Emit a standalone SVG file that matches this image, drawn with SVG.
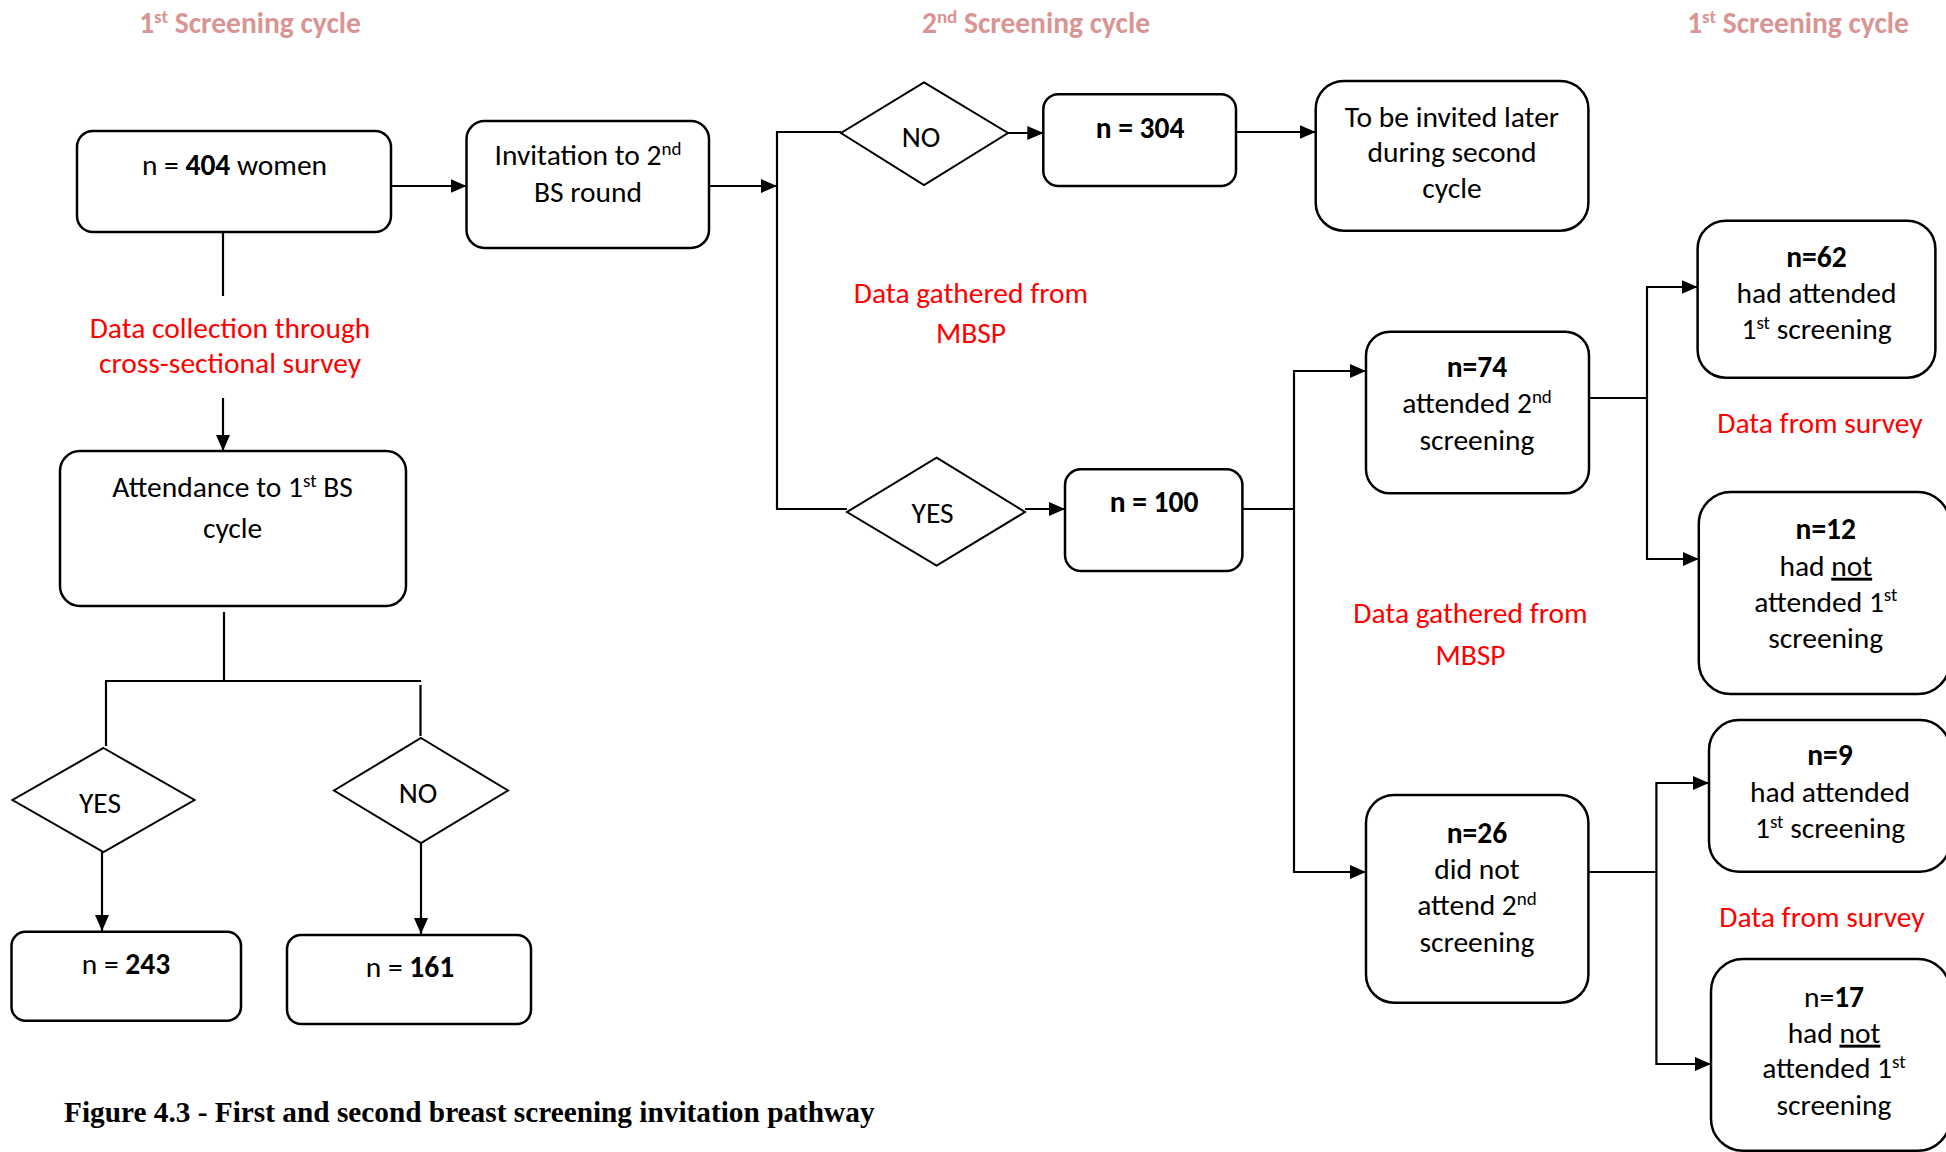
<svg xmlns="http://www.w3.org/2000/svg" width="1946" height="1152" viewBox="0 0 1946 1152">
  <style>
    text { font-family: Carlito, Calibri, Lato, "Liberation Sans", sans-serif; font-size: 29.5px; fill: #000; text-anchor: middle; }
    .box { fill: #fff; stroke: #000; stroke-width: 2.5; }
    .dia { fill: #fff; stroke: #000; stroke-width: 2; }
    .ln { fill: none; stroke: #000; stroke-width: 2.2; }
    .arr { fill: none; stroke: #000; stroke-width: 2.2; marker-end: url(#head); }
    .title { fill: #d99594; font-weight: bold; }
    .note { fill: #ff0000; }
    .b { font-weight: bold; }
    .u { text-decoration: underline; }
    .sup { font-size: 19px; }
    .cap { font-family: "Liberation Serif", "Times New Roman", serif; font-weight: bold; font-size: 29.3px; text-anchor: start; }
  </style>
  <defs>
    <marker id="head" markerUnits="userSpaceOnUse" markerWidth="16" markerHeight="14" refX="16" refY="7" orient="auto">
      <path d="M0,0 L16,7 L0,14 z" fill="#000"/>
    </marker>
  </defs>

  <!-- column headings -->
  <g id="headings">
    <text class="title" x="250" y="33">1<tspan class="sup" dy="-10.5">st</tspan><tspan dy="10.5"> Screening cycle</tspan></text>
    <text class="title" x="1036" y="33">2<tspan class="sup" dy="-10.5">nd</tspan><tspan dy="10.5"> Screening cycle</tspan></text>
    <text class="title" x="1798" y="33">1<tspan class="sup" dy="-10.5">st</tspan><tspan dy="10.5"> Screening cycle</tspan></text>
  </g>

  <!-- connectors -->
  <g id="connectors">
    <line class="arr" x1="391" y1="186" x2="466.5" y2="186"/>
    <line class="ln" x1="223" y1="232" x2="223" y2="296"/>
    <line class="arr" x1="223" y1="398" x2="223" y2="451"/>
    <line class="ln" x1="224" y1="612" x2="224" y2="681"/>
    <line class="ln" x1="105" y1="681" x2="421" y2="681"/>
    <line class="ln" x1="106" y1="681" x2="106" y2="746"/>
    <line class="ln" x1="420.5" y1="685" x2="420.5" y2="736"/>
    <line class="arr" x1="102" y1="852" x2="102" y2="931"/>
    <line class="arr" x1="421" y1="843" x2="421" y2="934"/>
    <line class="arr" x1="709" y1="186" x2="777" y2="186"/>
    <polyline class="ln" points="841,132 777,132 777,509 847,509"/>
    <line class="arr" x1="1008" y1="133" x2="1043.3" y2="133"/>
    <line class="arr" x1="1236" y1="132" x2="1315.7" y2="132"/>
    <line class="arr" x1="1025" y1="509" x2="1065" y2="509"/>
    <line class="ln" x1="1242.4" y1="509" x2="1294" y2="509"/>
    <polyline class="arr" points="1294,509 1294,371 1366,371"/>
    <polyline class="arr" points="1294,509 1294,872 1366,872"/>
    <line class="ln" x1="1589" y1="398" x2="1647" y2="398"/>
    <polyline class="arr" points="1647,398 1647,287 1697.6,287"/>
    <polyline class="arr" points="1647,398 1647,559 1698.8,559"/>
    <line class="ln" x1="1588.4" y1="872" x2="1656.4" y2="872"/>
    <polyline class="arr" points="1656.4,872 1656.4,783 1709,783"/>
    <polyline class="arr" points="1656.4,872 1656.4,1064 1711,1064"/>
  </g>

  <!-- nodes -->
  <g id="n404">
    <rect class="box" x="77" y="131" width="314" height="101" rx="16"/>
    <text x="234.5" y="175">n = <tspan class="b">404</tspan> women</text>
  </g>
  <g id="invite">
    <rect class="box" x="466.5" y="121" width="242.5" height="127" rx="18"/>
    <text x="588" y="165">Invitation to 2<tspan class="sup" dy="-10.5">nd</tspan></text>
    <text x="588" y="202">BS round</text>
  </g>
  <g id="attendance">
    <rect class="box" x="60" y="451" width="346" height="155" rx="20"/>
    <text x="232.6" y="497">Attendance to 1<tspan class="sup" dy="-10.5">st</tspan><tspan dy="10.5"> BS</tspan></text>
    <text x="232.6" y="538">cycle</text>
  </g>
  <g id="yes1">
    <polygon class="dia" points="103.5,748 194.5,800 103.5,852 12.5,800"/>
    <text x="100" y="812.7">YES</text>
  </g>
  <g id="no1">
    <polygon class="dia" points="421,738 508,790.5 421,843 334,790.5"/>
    <text x="418" y="802.7">NO</text>
  </g>
  <g id="n243">
    <rect class="box" x="11.5" y="931.7" width="229.5" height="89" rx="14"/>
    <text x="126" y="974">n = <tspan class="b">243</tspan></text>
  </g>
  <g id="n161">
    <rect class="box" x="287" y="935" width="244" height="89" rx="14"/>
    <text x="410" y="977">n = <tspan class="b">161</tspan></text>
  </g>
  <g id="no2">
    <polygon class="dia" points="924,82.3 1008,133 924,185 841,133"/>
    <text x="921" y="146.7">NO</text>
  </g>
  <g id="n304">
    <rect class="box" x="1043.3" y="94.3" width="192.7" height="91.7" rx="15"/>
    <text class="b" x="1140" y="137.7">n = 304</text>
  </g>
  <g id="later">
    <rect class="box" x="1315.7" y="81" width="272.7" height="149.7" rx="28"/>
    <text x="1452" y="126.7">To be invited later</text>
    <text x="1452" y="162.3">during second</text>
    <text x="1452" y="198.3">cycle</text>
  </g>
  <g id="yes2">
    <polygon class="dia" points="936.6,457.7 1025,512 936.6,565.7 847,512"/>
    <text x="932.6" y="523.3">YES</text>
  </g>
  <g id="n100">
    <rect class="box" x="1065" y="469.3" width="177.4" height="101.7" rx="16"/>
    <text class="b" x="1154" y="511.7">n = 100</text>
  </g>
  <g id="n74">
    <rect class="box" x="1366" y="331.7" width="223" height="161.6" rx="24"/>
    <text class="b" x="1477" y="377.3">n=74</text>
    <text x="1477" y="413.3">attended 2<tspan class="sup" dy="-10.5">nd</tspan></text>
    <text x="1477" y="450">screening</text>
  </g>
  <g id="n26">
    <rect class="box" x="1366" y="795" width="222.4" height="207.7" rx="28"/>
    <text class="b" x="1477" y="843.3">n=26</text>
    <text x="1477" y="879.3">did not</text>
    <text x="1477" y="915">attend 2<tspan class="sup" dy="-10.5">nd</tspan></text>
    <text x="1477" y="951.7">screening</text>
  </g>
  <g id="n62">
    <rect class="box" x="1697.6" y="220.7" width="237.8" height="157" rx="28"/>
    <text class="b" x="1816.5" y="266.7">n=62</text>
    <text x="1816.5" y="302.7">had attended</text>
    <text x="1816.5" y="339.3">1<tspan class="sup" dy="-10.5">st</tspan><tspan dy="10.5"> screening</tspan></text>
  </g>
  <g id="n12">
    <rect class="box" x="1698.8" y="492" width="251" height="202" rx="32"/>
    <text class="b" x="1825.8" y="539.3">n=12</text>
    <text x="1825.8" y="575.7">had <tspan class="u">not</tspan></text>
    <text x="1825.8" y="611.7">attended 1<tspan class="sup" dy="-10.5">st</tspan></text>
    <text x="1825.8" y="648.3">screening</text>
  </g>
  <g id="n9">
    <rect class="box" x="1709" y="720" width="241" height="151.7" rx="30"/>
    <text class="b" x="1830" y="765">n=9</text>
    <text x="1830" y="801.7">had attended</text>
    <text x="1830" y="838.3">1<tspan class="sup" dy="-10.5">st</tspan><tspan dy="10.5"> screening</tspan></text>
  </g>
  <g id="n17">
    <rect class="box" x="1711" y="959" width="239" height="191.7" rx="32"/>
    <text x="1834" y="1006.7">n=<tspan class="b">17</tspan></text>
    <text x="1834" y="1042.7">had <tspan class="u">not</tspan></text>
    <text x="1834" y="1078.3">attended 1<tspan class="sup" dy="-10.5">st</tspan></text>
    <text x="1834" y="1115">screening</text>
  </g>

  <!-- data-source notes -->
  <g id="notes">
    <text class="note" x="230" y="338">Data collection through</text>
    <text class="note" x="230" y="373">cross-sectional survey</text>
    <text class="note" x="971" y="303.3">Data gathered from</text>
    <text class="note" x="971" y="343.3">MBSP</text>
    <text class="note" x="1820" y="433.3">Data from survey</text>
    <text class="note" x="1470.5" y="623.3">Data gathered from</text>
    <text class="note" x="1470.5" y="665">MBSP</text>
    <text class="note" x="1822" y="926.7">Data from survey</text>
  </g>

  <text class="cap" x="64" y="1121.7">Figure 4.3 - First and second breast screening invitation pathway</text>
</svg>
